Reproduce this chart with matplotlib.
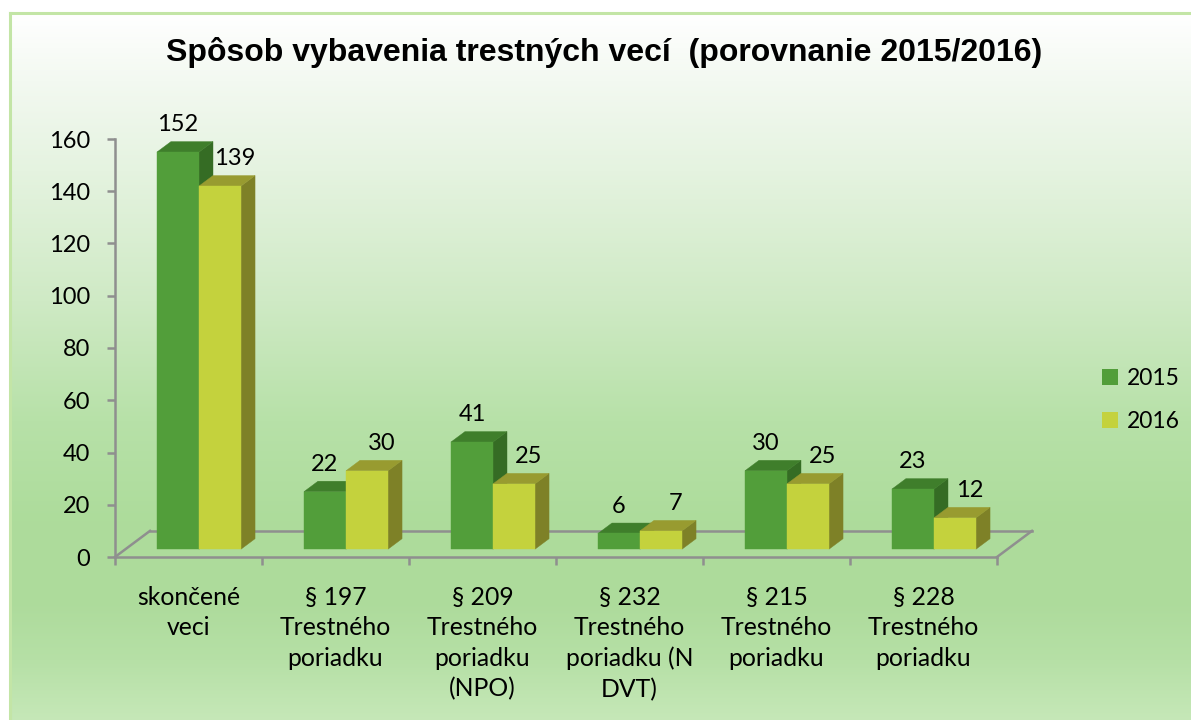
import numpy as np
import matplotlib
matplotlib.use("Agg")
import matplotlib.pyplot as plt
from matplotlib.patches import Polygon, Patch
from matplotlib.colors import to_rgb

# ---------------- data ----------------
categories = ["skončené\nveci",
              "§ 197\nTrestného\nporiadku",
              "§ 209\nTrestného\nporiadku\n(NPO)",
              "§ 232\nTrestného\nporiadku (N\nDVT)",
              "§ 215\nTrestného\nporiadku",
              "§ 228\nTrestného\nporiadku"]
series_names = ["2015", "2016"]
values_2015 = [152, 22, 41, 6, 30, 23]
values_2016 = [139, 30, 25, 7, 25, 12]
yticks = [0, 20, 40, 60, 80, 100, 120, 140, 160]
title = "Spôsob vybavenia trestných vecí  (porovnanie 2015/2016)"

# ---------------- style ----------------
W, H = 1191, 720
fig = plt.figure(figsize=(W / 100, H / 100), dpi=100)

# background gradient
bg = fig.add_axes([0, 0, 1, 1])
bg.set_xlim(0, W)
bg.set_ylim(H, 0)
bg.axis("off")
stops = [(0, "#FFFFFF"), (15, "#FFFFFF"), (80, "#F3F9F1"), (170, "#E5F3E0"),
         (300, "#CFEAC5"), (420, "#B7E1A8"), (520, "#ADDC9B"), (600, "#ADDB9B"),
         (660, "#B6E0A6"), (720, "#C6E8B8")]
ys = np.arange(H)
sy = [s[0] for s in stops]
cols = np.array([to_rgb(s[1]) for s in stops])
grad = np.stack([np.interp(ys, sy, cols[:, k]) for k in range(3)], axis=-1)
img = np.repeat(grad[:, None, :], 2, axis=1)
bg.imshow(img, extent=[0, W, H, 0], aspect="auto", zorder=0)
# white outside border
bg.fill_between([0, W], 0, 12, color="white", zorder=1)
bg.fill_between([0, 8.5], 0, H, color="white", zorder=1)
bg.plot([9.5, 9.5], [13, H], color="#C3E5A6", lw=2.2, zorder=2)
bg.plot([9.5, W], [13, 13], color="#C3E5A6", lw=2.2, zorder=2)

# main axes
x0, x1, y0, y1 = 115, 997, 557, 139
ax = fig.add_axes([x0 / W, 1 - y0 / H, (x1 - x0) / W, (y0 - y1) / H])
ax.set_xlim(0, len(categories))
ax.set_ylim(0, 160)
ax.patch.set_alpha(0)

DX = 35 / 147.0   # floor depth in category units
DY = 10.0         # floor depth in value units
axis_col = "#8F8F8F"

for sp in ["top", "right"]:
    ax.spines[sp].set_visible(False)
for sp in ["left", "bottom"]:
    ax.spines[sp].set_color(axis_col)
    ax.spines[sp].set_linewidth(1.8)

# floor outline
n = len(categories)
ax.plot([0, DX], [0, DY], color=axis_col, lw=1.8, clip_on=False, zorder=1)
ax.plot([DX, n + DX], [DY, DY], color=axis_col, lw=1.8, clip_on=False, zorder=1)
ax.plot([n, n + DX], [0, DY], color=axis_col, lw=1.8, clip_on=False, zorder=1)

fonts = ["Lato", "DejaVu Sans"]
ax.set_yticks(yticks)
ax.set_yticklabels([str(t) for t in yticks], fontsize=17, family=fonts)
ax.set_xticks(range(n + 1))
ax.set_xticklabels([])
ax.tick_params(axis="both", which="major", direction="out", length=6,
               width=1.8, color=axis_col)
ax.tick_params(axis="y", pad=12)
ax.set_xticks(np.arange(n) + 0.5, minor=True)
ax.set_xticklabels(categories, minor=True, fontsize=17.8, family=fonts,
                   linespacing=1.38, va="top")
ax.tick_params(axis="x", which="minor", length=0, pad=21)

# 3D bars
face_cols = [("#529E3A", "#3F7E2B", "#356C24"),
             ("#C4D23D", "#989B30", "#7E8127")]
bw = 0.286
gap = (1 - 2 * bw) / 2
d0, d1 = 0.3, 0.7
for s, vals in enumerate([values_2015, values_2016]):
    front, top, side = face_cols[s]
    for i, v in enumerate(vals):
        xl = i + gap + s * bw
        fx, fy = d0 * DX, d0 * DY
        bx, by = d1 * DX, d1 * DY
        fr = [(xl + fx, fy), (xl + bw + fx, fy), (xl + bw + fx, v + fy), (xl + fx, v + fy)]
        tp = [(xl + fx, v + fy), (xl + bw + fx, v + fy), (xl + bw + bx, v + by), (xl + bx, v + by)]
        sd = [(xl + bw + fx, fy), (xl + bw + bx, by), (xl + bw + bx, v + by), (xl + bw + fx, v + fy)]
        z = 3 + s
        for poly, c in [(sd, side), (tp, top), (fr, front)]:
            ax.add_patch(Polygon(poly, closed=True, facecolor=c, edgecolor=c,
                                 lw=0.3, clip_on=False, zorder=z))
        lx = xl + bw / 2 + fx + (0.1 if s == 1 else 0.0)
        ax.text(lx, v + by + 6.5, str(v), ha="center", va="center",
                fontsize=17, family=fonts, zorder=10, clip_on=False)

# title
fig.text(604 / W, 1 - 53 / H, title, ha="center", va="center",
         fontsize=23, fontweight="bold", family=["Liberation Sans", "DejaVu Sans"])

# legend
handles = [Patch(facecolor=face_cols[0][0]), Patch(facecolor=face_cols[1][0])]
fig.legend(handles, series_names, loc="center left",
           bbox_to_anchor=(1086 / W, 1 - 400 / H), frameon=False,
           prop={"family": fonts, "size": 16.5}, handlelength=0.7,
           handleheight=0.7, handletextpad=0.4, labelspacing=1.0,
           borderpad=0.2)

fig.savefig("out.png", dpi=100)
